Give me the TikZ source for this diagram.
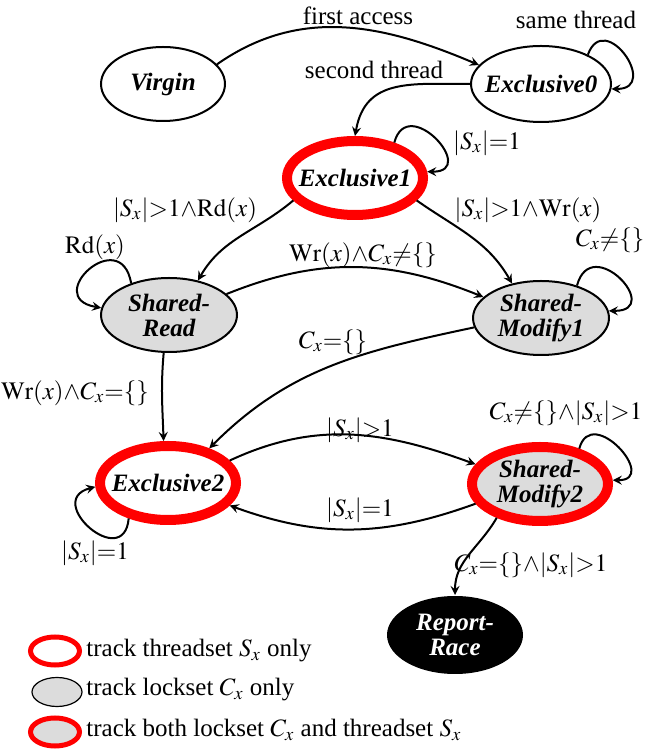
\documentclass[tikz,border=0pt]{standalone}
\usepackage{mathptmx}
\usepackage{fontspec}
\setmainfont{Liberation Serif}
\usepackage{tikz}
\usetikzlibrary{calc, shapes.geometric, positioning}

\definecolor{lockgray}{RGB}{220,220,220}
\newcommand{\Sset}{|S_x|}
\newcommand{\Cset}{C_x}

\begin{document}
\begin{tikzpicture}[>=stealth, x=0.5pt, y=0.5pt,
    every node/.style={font=\fontsize{12.5}{12.5}\selectfont},
    state/.style={ellipse, draw, line width=1pt, inner sep=0pt,
        minimum width=68pt, minimum height=37pt},
    thread/.style={state, draw=red, line width=5pt},
    lock/.style={state, fill=lockgray},
    both/.style={thread, fill=lockgray},
    stname/.style={font=\fontsize{12.5}{12.5}\selectfont\bfseries\itshape, align=center},
    edge/.style={->, line width=1pt},
    selfloop/.style={edge, looseness=3}]

    \useasboundingbox (0,0) rectangle (644,750);

    % =================================================================
    % 1. STATES
    % =================================================================
    \node[state, minimum width=62pt, label={[stname]center:Virgin}] (virgin) at (163,666) {};
    \node[state, minimum width=70pt, minimum height=38pt, label={[stname]center:Exclusive0}] (excl0) at (541,666) {};
    \node[thread, label={[stname]center:Exclusive1}] (excl1) at (355,572) {};
    \node[lock, label={[stname]center:{Shared-\\Read}}] (sread) at (169,435) {};
    \node[lock, label={[stname]center:{Shared-\\Modify1}}] (smod1) at (541,432) {};
    \node[thread, label={[stname]center:Exclusive2}] (excl2) at (168,267) {};
    \node[both, label={[stname]center:{Shared-\\Modify2}}] (smod2) at (540,266) {};
    \node[state, draw=none, fill=black, minimum height=39pt,
        label={[stname, text=white]center:{Report-\\Race}}] (race) at (455,115) {};

    % =================================================================
    % 2. TRANSITIONS
    % =================================================================
    \draw[edge] (virgin.20) to[out=35, in=157] (excl0.163);
    \draw[selfloop] (excl0.32) to[out=70, in=0] (excl0.-4);
    \draw[edge] (excl0.west) to[out=180, in=80, looseness=1.2] (excl1.north);
    \draw[selfloop] (excl1.42) to[out=75, in=0] (excl1.5);
    \draw[edge] (excl1.200) to[out=220, in=60] (sread.50);
    \draw[edge] (excl1.-20) to[out=-35, in=120] (smod1.130);
    \draw[selfloop, looseness=4] (sread.140) to[out=100, in=170] (sread.174);
    \draw[edge] (sread.20) to[out=22, in=158] (smod1.160);
    \draw[selfloop, looseness=3.5] (smod1.42) to[out=75, in=0] (smod1.6);
    \draw[edge] (smod1.188) to[out=192, in=45] (excl2.40);
    \draw[edge] (sread.262) to[out=-95, in=92] (excl2.96);
    \draw[edge] (excl2.20) to[out=25, in=160] (smod2.163);
    \draw[edge] (smod2.197) to[out=200, in=-20] (excl2.-20);
    \draw[selfloop, looseness=2.6] (smod2.42) to[out=75, in=0] (smod2.3);
    \draw[selfloop] (excl2.222) to[out=265, in=195] (excl2.183);
    \draw[edge] (smod2.218) to[out=240, in=90] (race.north);

    % =================================================================
    % 3. TRANSITION LABELS
    % =================================================================
    \node (tFirst) at (358,734) {first access};
    \node (tSame) at (576,730) {same thread};
    \node (tSecond) at (374,680) {second thread};
    \node (tOne1) at (487,607) {$\Sset{=}1$};
    \node (tRd) at (185,540) {$\Sset{>}1{\wedge}\mathrm{Rd}(x)$};
    \node (tWr) at (528,540) {$\Sset{>}1{\wedge}\mathrm{Wr}(x)$};
    \node (tRdLoop) at (95,503) {$\mathrm{Rd}(x)$};
    \node (tWrC) at (363,495) {$\mathrm{Wr}(x){\wedge}\Cset{\neq}\{\}$};
    \node (tCLoop) at (610,510) {$\Cset{\neq}\{\}$};
    \node (tCEmpty) at (333,408) {$\Cset{=}\{\}$};
    \node (tWrE) at (75,357) {$\mathrm{Wr}(x){\wedge}\Cset{=}\{\}$};
    \node (tMore) at (360,320) {$\Sset{>}1$};
    \node (tBack) at (360,240) {$\Sset{=}1$};
    \node (tSmLoop) at (566,337) {$\Cset{\neq}\{\}{\wedge}\Sset{>}1$};
    \node (tOne2) at (95,197) {$\Sset{=}1$};
    \node (tRace) at (531,185) {$\Cset{=}\{\}{\wedge}\Sset{>}1$};

    % =================================================================
    % 4. LEGEND
    % =================================================================
    \node[thread, line width=2.5pt, minimum width=24.5pt, minimum height=14pt] (keyT) at (55,99) {};
    \node[lock, line width=0.6pt, minimum width=25pt, minimum height=14.5pt] (keyL) at (57,58) {};
    \node[both, line width=2.5pt, minimum width=24.5pt, minimum height=14pt] (keyB) at (55,18) {};
    \node[anchor=west, inner sep=0pt] (txtT) at (86,99) {track threadset $S_x$ only};
    \node[anchor=west, inner sep=0pt] (txtL) at (86,60) {track lockset $C_x$ only};
    \node[anchor=west, inner sep=0pt] (txtB) at (86,20) {track both lockset $C_x$ and threadset $S_x$};

\end{tikzpicture}
\end{document}
